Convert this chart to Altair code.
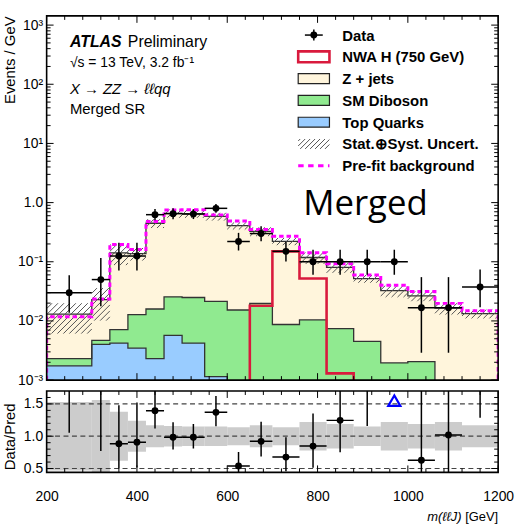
import altair as alt
import numpy as np
import pandas as pd

# ---------------- values ----------------
bin_edges = [200, 300, 340, 380, 420, 460, 500, 550, 600, 650, 700,
             760, 820, 880, 940, 1000, 1060, 1120, 1200]
data_vals = [0.030, 0.050, 0.125, 0.125, 0.625, 0.650, 0.640, 0.800, 0.220,
             0.300, 0.150, 0.100, 0.100, 0.100, 0.100, 0.0167, 0.0167, 0.0375]
data_err_lo = [0.0137, 0.0177, 0.0710, 0.0710, 0.501, 0.524, 0.527, 0.674, 0.155,
               0.223, 0.101, 0.0603, 0.0603, 0.0603, 0.0603, 0.0029, 0.0029, 0.0171]
data_err_hi = [0.0592, 0.1160, 0.2096, 0.2096, 0.777, 0.803, 0.774, 0.948, 0.308,
               0.399, 0.218, 0.1597, 0.1597, 0.1597, 0.1597, 0.0550, 0.0550, 0.0740]
total_bkg = [0.0130, 0.0230, 0.1416, 0.1377, 0.448, 0.660, 0.650, 0.584, 0.407,
             0.326, 0.2216, 0.118, 0.0803, 0.052, 0.0324, 0.0266, 0.0164, 0.0133]
diboson_top = [0.00231, 0.0047, 0.0071, 0.0128, 0.0159, 0.0256, 0.0249, 0.0214,
               0.0153, 0.0198, 0.0087, 0.0104, 0.0074, 0.0045, 0.00195, 0.00205]
topq_top = [0.00174, 0.0040, 0.00423, 0.00348, 0.00231, 0.0057, 0.0042, 0.00114]
prefit_bkg = [0.0118, 0.0234, 0.195, 0.161, 0.48, 0.75, 0.755, 0.62, 0.49,
              0.35, 0.269, 0.142, 0.0925, 0.0598, 0.040, 0.0314, 0.0198, 0.0149]
signal_edges = [650, 700, 760, 820, 880]
signal_vals = [0.0181, 0.150, 0.052, 0.0013]
unc_rel = [0.53, 0.56, 0.38, 0.24, 0.17, 0.16, 0.15, 0.15, 0.14,
           0.17, 0.14, 0.22, 0.19, 0.15, 0.22, 0.19, 0.22, 0.17]

legend_labels = ["Data", "NWA H (750 GeV)", "Z + jets", "SM Diboson", "Top Quarks",
                 "Stat.\u2295Syst. Uncert.", "Pre-fit background"]
x_tick_labels = [200, 400, 600, 800, 1000, 1200]

# ---------------- style / layout ----------------
FONT = "Liberation Sans"
W, H, H2 = 455, 367, 82
XMIN, XMAX = bin_edges[0], bin_edges[-1]
YMIN, YMAX = 1e-3, 1430.0
RMIN, RMAX = 0.44, 1.70
ARROW_Y = 1.55
CREAM, GREEN, BLUE = "#fff5dc", "#90ea90", "#99ccff"
RED, MAG = "#d91a3d", "#ff00ff"

lo_e, hi_e = bin_edges[:-1], bin_edges[1:]
nb = len(lo_e)
cen = [(a + b) / 2 for a, b in zip(lo_e, hi_e)]

xs = alt.Scale(domain=[XMIN, XMAX], nice=False, zero=False)
ys = alt.Scale(type="log", domain=[YMIN, YMAX], nice=False)
rs = alt.Scale(domain=[RMIN, RMAX], nice=False, zero=False)

y_major = [1e-3, 1e-2, 1e-1, 1.0, 10.0, 100.0, 1000.0]
y_minor = [m * 10.0 ** k for k in range(-3, 3) for m in range(2, 10)]
x_major = x_tick_labels
x_minor = [v for v in range(240, 1200, 40) if v % 200]
r_major = [0.5, 1.0, 1.5]
r_minor = [0.6, 0.7, 0.8, 0.9, 1.1, 1.2, 1.3, 1.4, 1.6]

LABEL_EXPR = ("datum.value > 500 ? '10\u00b3' : datum.value > 50 ? '10\u00b2' : "
              "datum.value > 5 ? '10\u00b9' : datum.value > 0.5 ? '1.0' : "
              "datum.value > 0.05 ? '10\u207b\u00b9' : datum.value > 0.005 ? '10\u207b\u00b2' : '10\u207b\u00b3'")

ax_main_y = alt.Axis(values=y_major, labelExpr=LABEL_EXPR, ticks=False, domain=False, grid=False,
                     labelFont=FONT, labelFontSize=14, labelColor="black", labelPadding=4,
                     title="Events / GeV", titleFont=FONT, titleFontSize=15, titleFontWeight="normal",
                     titleColor="black", titleX=-37.5, titleY=0, titleAlign="right", titleAngle=270,
                     titleBaseline="middle")
ax_ratio_x = alt.Axis(values=x_tick_labels, format="d", ticks=False, tickSize=0, domain=False, grid=False,
                      labelFont=FONT, labelFontSize=14, labelColor="black", labelPadding=17,
                      labelFlush=False, title=None)
ax_ratio_y = alt.Axis(values=r_major, format=".1f", ticks=False, domain=False, grid=False,
                      labelFont=FONT, labelFontSize=14, labelColor="black", labelPadding=4,
                      title="Data/Pred", titleFont=FONT, titleFontSize=15, titleFontWeight="normal",
                      titleColor="black", titleX=-37.5, titleY=45.7, titleAlign="center",
                      titleAngle=270, titleBaseline="middle")


def MX(f):
    return alt.X(f, type="quantitative", scale=xs, axis=None)


def MY(f):
    return alt.Y(f, type="quantitative", scale=ys, axis=ax_main_y, stack=None)


def RX(f):
    return alt.X(f, type="quantitative", scale=xs, axis=ax_ratio_x)


def RY(f):
    return alt.Y(f, type="quantitative", scale=rs, axis=ax_ratio_y)


def step_path(lows, highs, vals):
    rows = [(lows[0], YMIN)]
    for a, b, v in zip(lows, highs, vals):
        rows += [(a, v), (b, v)]
    rows.append((highs[-1], YMIN))
    return pd.DataFrame({"x": [r[0] for r in rows], "y": [r[1] for r in rows],
                         "i": list(range(len(rows)))})


layers = []

# stacked histograms (cumulative tops)
df_cream = pd.DataFrame({"x": lo_e + [hi_e[-1]], "y": total_bkg + [total_bkg[-1]]})
ng = len(diboson_top)
df_green = pd.DataFrame({"x": lo_e[:ng] + [hi_e[ng - 1]], "y": diboson_top + [YMIN]})
nt = len(topq_top)
df_blue = pd.DataFrame({"x": lo_e[:nt] + [hi_e[nt - 1]], "y": topq_top + [YMIN]})
for df in (df_cream, df_green, df_blue):
    df["base"] = YMIN
for df, col in [(df_cream, CREAM), (df_green, GREEN), (df_blue, BLUE)]:
    layers.append(alt.Chart(df).mark_area(interpolate="step-after", color=col, fill=col,
                                          opacity=1, fillOpacity=1, clip=True)
                  .encode(x=MX("x"), y=MY("y"), y2="base"))
for df in [df_cream, df_green, df_blue]:
    layers.append(alt.Chart(df).mark_line(interpolate="step-after", color="#333333", strokeWidth=1.3, clip=True)
                  .encode(x=MX("x"), y=MY("y")))

# signal
df_sig = step_path(signal_edges[:-1], signal_edges[1:], signal_vals)
layers.append(alt.Chart(df_sig).mark_line(color=RED, strokeWidth=2.6, clip=True)
              .encode(x=MX("x"), y=MY("y"), order=alt.Order("i:Q")))

# hatched uncertainty band
ppg = W / (XMAX - XMIN)
ppd = H / (np.log10(YMAX) - np.log10(YMIN))
STEP = 6.0
hrows = []
for i in range(nb):
    b0 = total_bkg[i] * (1 - unc_rel[i])
    b1 = total_bkg[i] * (1 + unc_rel[i])
    U0 = (lo_e[i] - XMIN) * ppg
    V0 = (np.log10(b0) - np.log10(YMIN)) * ppd
    w = (hi_e[i] - lo_e[i]) * ppg
    h = (np.log10(b1) - np.log10(b0)) * ppd
    C0 = np.ceil((U0 - V0 - h) / STEP) * STEP
    for C in np.arange(C0, U0 - V0 + w, STEP):
        c = C - U0 + V0
        u0, u1 = max(0.0, c), min(w, h + c)
        if u1 - u0 < 0.6:
            continue
        hrows.append({"x": lo_e[i] + u0 / ppg, "x2": lo_e[i] + u1 / ppg,
                      "y": b0 * 10 ** ((u0 - c) / ppd), "y2": b0 * 10 ** ((u1 - c) / ppd)})
df_h = pd.DataFrame(hrows)
layers.append(alt.Chart(df_h).mark_rule(color="#555555", strokeWidth=1, clip=True)
              .encode(x=MX("x"), x2="x2", y=MY("y"), y2="y2"))

# pre-fit background
df_pre = step_path(lo_e, hi_e, prefit_bkg)
layers.append(alt.Chart(df_pre).mark_line(color=MAG, strokeWidth=3, strokeDash=[4.5, 3], clip=True)
              .encode(x=MX("x"), y=MY("y"), order=alt.Order("i:Q")))

# data
df_d = pd.DataFrame({"lo": lo_e, "hi": hi_e, "c": cen, "v": data_vals,
                     "elo": data_err_lo, "ehi": data_err_hi})
layers.append(alt.Chart(df_d).mark_rule(color="black", strokeWidth=1.5)
              .encode(x=MX("c"), y=MY("elo"), y2="ehi"))
layers.append(alt.Chart(df_d).mark_rule(color="black", strokeWidth=1.5)
              .encode(x=MX("lo"), x2="hi", y=MY("v")))
layers.append(alt.Chart(df_d).mark_circle(color="black", size=48, opacity=1)
              .encode(x=MX("c"), y=MY("v")))


# inward ticks
def x_ticks(vals, length, xenc, h):
    df = pd.DataFrame({"v": vals})
    return [alt.Chart(df).mark_rule(color="black", strokeWidth=1)
            .encode(x=xenc("v"), y=alt.value(h), y2=alt.value(h - length)),
            alt.Chart(df).mark_rule(color="black", strokeWidth=1)
            .encode(x=xenc("v"), y=alt.value(0), y2=alt.value(length))]


def y_ticks(vals, length, yenc):
    df = pd.DataFrame({"v": vals})
    return [alt.Chart(df).mark_rule(color="black", strokeWidth=1)
            .encode(y=yenc("v"), x=alt.value(0), x2=alt.value(length)),
            alt.Chart(df).mark_rule(color="black", strokeWidth=1)
            .encode(y=yenc("v"), x=alt.value(W), x2=alt.value(W - length))]


layers += x_ticks(x_major, 7, MX, H) + x_ticks(x_minor, 4, MX, H)
layers += y_ticks(y_major, 7, MY) + y_ticks(y_minor, 4, MY)

one = pd.DataFrame({"a": [0]})
# frame
layers.append(alt.Chart(one).mark_rect(fillOpacity=0, stroke="black", strokeWidth=1.6)
              .encode(x=alt.value(0), x2=alt.value(W), y=alt.value(0), y2=alt.value(H)))


# texts
def txt(s, x, y, size, weight="normal", style="normal", font=FONT, align="left"):
    return (alt.Chart(one)
            .mark_text(text=s, font=font, fontSize=size, fontWeight=weight, fontStyle=style,
                       align=align, baseline="alphabetic", color="black")
            .encode(x=alt.value(x), y=alt.value(y)))


layers.append(txt("ATLAS", 23.5, 31.3, 16, weight="bold", style="italic"))
layers.append(txt("Preliminary", 81.8, 31.3, 16))
layers.append(txt("\u221as = 13 TeV,  3.2 fb\u207b\u00b9", 23.5, 51.3, 14))
layers.append(txt("X \u2192 ZZ \u2192 \u2113\u2113qq", 23.5, 78.7, 15, style="italic"))
layers.append(txt("Merged SR", 23.5, 98.7, 15))
layers.append(txt("Merged", 258.5, 200.3, 35, font="Open Sans"))

# legend
GX0, GX1, TX = 253.5, 285.0, 298.0
LY0, LDY = 19.3, 21.95
for k, lab in enumerate(legend_labels):
    yc = LY0 + k * LDY
    layers.append(alt.Chart(one).mark_text(text=lab, font=FONT, fontSize=15, fontWeight="bold",
                                           align="left", baseline="middle", color="black")
                  .encode(x=alt.value(TX), y=alt.value(yc + 0.5)))
    if k == 0:
        xc = (GX0 + GX1) / 2
        layers.append(alt.Chart(one).mark_rule(color="black", strokeWidth=1.5)
                      .encode(x=alt.value(xc - 9), x2=alt.value(xc + 9), y=alt.value(yc)))
        layers.append(alt.Chart(one).mark_rule(color="black", strokeWidth=1.5)
                      .encode(x=alt.value(xc), y=alt.value(yc - 5.5), y2=alt.value(yc + 5.5)))
        layers.append(alt.Chart(one).mark_circle(color="black", size=48, opacity=1)
                      .encode(x=alt.value(xc), y=alt.value(yc)))
    elif k == 1:
        layers.append(alt.Chart(one).mark_rect(fill="white", stroke=RED, strokeWidth=2.6)
                      .encode(x=alt.value(GX0), x2=alt.value(GX1), y=alt.value(yc - 5.5), y2=alt.value(yc + 5.5)))
    elif k in (2, 3, 4):
        col = [CREAM, GREEN, BLUE][k - 2]
        layers.append(alt.Chart(one).mark_rect(fill=col, stroke="#222222", strokeWidth=1.2)
                      .encode(x=alt.value(GX0), x2=alt.value(GX1), y=alt.value(yc - 5), y2=alt.value(yc + 5)))
    elif k == 5:
        hh, ww = 10.0, GX1 - GX0
        yb = yc + 5
        for c in np.arange(-hh + 2, ww, 5.0):
            u0, u1 = max(0.0, c), min(ww, hh + c)
            if u1 - u0 < 0.6:
                continue
            layers.append(alt.Chart(one).mark_rule(color="#555555", strokeWidth=1)
                          .encode(x=alt.value(GX0 + u0), x2=alt.value(GX0 + u1),
                                  y=alt.value(yb - (u0 - c)), y2=alt.value(yb - (u1 - c))))
    else:
        layers.append(alt.Chart(one).mark_rule(color=MAG, strokeWidth=3, strokeDash=[5.5, 4.5])
                      .encode(x=alt.value(GX0), x2=alt.value(GX1), y=alt.value(yc)))

main = alt.layer(*layers).properties(width=W, height=H)

# ---------------- ratio panel ----------------
df_r = pd.DataFrame({"lo": lo_e, "hi": hi_e, "c": cen,
                     "r": [d / t for d, t in zip(data_vals, total_bkg)],
                     "rlo": [d / t for d, t in zip(data_err_lo, total_bkg)],
                     "rhi": [d / t for d, t in zip(data_err_hi, total_bkg)],
                     "blo": [1 - u for u in unc_rel], "bhi": [1 + u for u in unc_rel]})
df_arrow = df_r[df_r["rlo"] > RMAX].assign(ay=ARROW_Y)

rl = []
rl.append(alt.Chart(df_r).mark_rect(color="#cccccc", opacity=1, clip=True)
          .encode(x=RX("lo"), x2="hi", y=RY("blo"), y2="bhi"))
rl.append(alt.Chart(pd.DataFrame({"v": r_major})).mark_rule(color="#444444", strokeWidth=1.2, strokeDash=[5, 3.5])
          .encode(y=RY("v"), x=alt.value(0), x2=alt.value(W)))
rl.append(alt.Chart(df_r).mark_rule(color="black", strokeWidth=1.5, clip=True)
          .encode(x=RX("c"), y=RY("rlo"), y2="rhi"))
rl.append(alt.Chart(df_r).mark_rule(color="black", strokeWidth=1.5, clip=True)
          .encode(x=RX("lo"), x2="hi", y=RY("r")))
rl.append(alt.Chart(df_r).mark_circle(color="black", size=48, opacity=1, clip=True)
          .encode(x=RX("c"), y=RY("r")))
rl.append(alt.Chart(df_arrow).mark_point(shape="triangle-up", filled=False, color="#0000ff",
                                         strokeWidth=2.2, size=150, opacity=1)
          .encode(x=RX("c"), y=RY("ay")))
rl += x_ticks(x_major, 7, RX, H2) + x_ticks(x_minor, 4, RX, H2)
rl += y_ticks(r_major, 7, RY) + y_ticks(r_minor, 4, RY)
rl.append(alt.Chart(one).mark_rect(fillOpacity=0, stroke="black", strokeWidth=1.6)
          .encode(x=alt.value(0), x2=alt.value(W), y=alt.value(0), y2=alt.value(H2)))
rl.append(alt.Chart(one).mark_text(text="[GeV]", font=FONT, fontSize=13, align="right",
                                   baseline="alphabetic", color="black")
          .encode(x=alt.value(W), y=alt.value(H2 + 48.5)))
rl.append(alt.Chart(one).mark_text(text="m(\u2113\u2113J)", font=FONT, fontSize=13, fontStyle="italic",
                                   align="right", baseline="alphabetic", color="black")
          .encode(x=alt.value(W - 37), y=alt.value(H2 + 48.5)))

ratio = alt.layer(*rl).properties(width=W, height=H2)

chart = (alt.vconcat(main, ratio, spacing=11, bounds="flush")
         .properties(padding={"left": 2, "top": 13, "right": 4, "bottom": 0}, background="white")
         .configure_view(strokeWidth=0))

chart.save("out.html", embed_options={"renderer": "svg", "actions": False})
